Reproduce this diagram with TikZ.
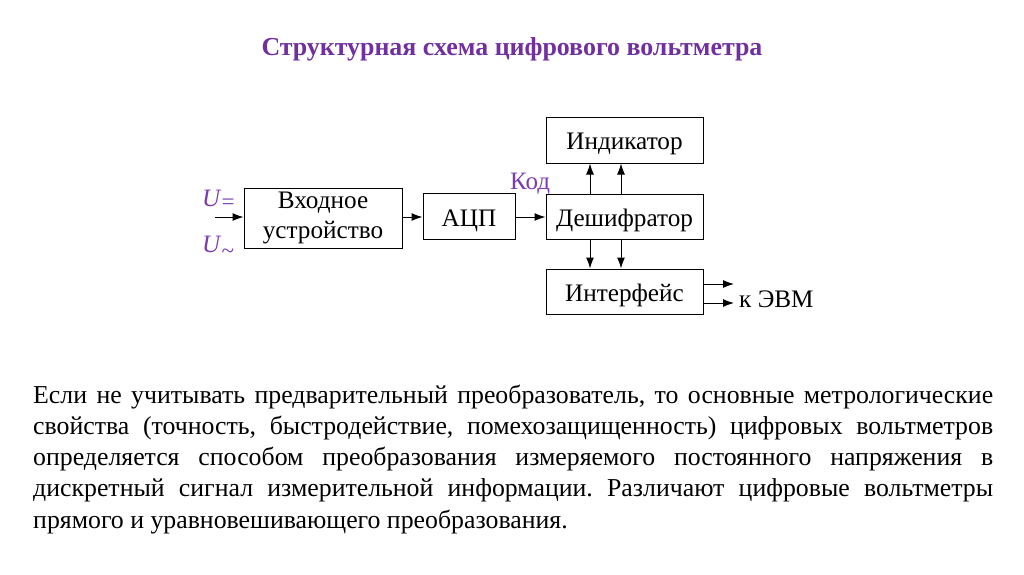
\documentclass[tikz,border=0pt]{standalone}
\usepackage{fontspec}
\setmainfont{Liberation Serif}
\usetikzlibrary{arrows.meta}
\frenchspacing
\definecolor{ttl}{HTML}{7030A0}
\definecolor{lbl}{HTML}{7A3CB0}
\tikzset{
  blk/.style={draw, line width=1pt, inner sep=0pt, align=center, font=\fontsize{25.2}{30.5}\selectfont},
  blk1/.style={blk, text height=21pt, text depth=2pt},
  arr/.style={line width=1pt, -{Latex[length=11pt,width=8pt]}},
  para/.style={anchor=base west, inner sep=0pt, font=\fontsize{25.8}{30}\selectfont},
  ulab/.style={text=lbl, anchor=base west, inner sep=0pt, font=\fontsize{25}{29}\selectfont},
}
\begin{document}
\begin{tikzpicture}[x=1pt,y=-1pt]
\useasboundingbox (0,0) rectangle (1024,574);
\node[text=ttl, anchor=base, inner sep=0pt, font=\fontsize{25.9}{30}\selectfont\bfseries] (title) at (512,55) {Структурная схема цифрового вольтметра};

\node[blk, minimum width=158, minimum height=60] (vx) at (323,218) {Входное\\устройство};
\node[blk1, minimum width=92, minimum height=46] (adc) at (469,216.5) {АЦП};
\node[blk1, minimum width=157, minimum height=46] (ind) at (624.5,140) {Индикатор};
\node[blk1, minimum width=157, minimum height=45] (dec) at (624.5,216.5) {Дешифратор};
\node[blk1, minimum width=157, minimum height=45] (intf) at (624.5,291.5) {Интерфейс};

\coordinate (in) at (215,217);
\draw[arr] (in) -- (vx.west |- in);
\draw[arr] (vx.east |- in) -- (adc.west |- in);
\draw[arr] (adc.east |- in) -- (dec.west |- in);

\coordinate (xa) at (590,0);
\coordinate (xb) at (621,0);
\draw[arr] (dec.north -| xa) -- (ind.south -| xa);
\draw[arr] (dec.north -| xb) -- (ind.south -| xb);
\draw[arr] (dec.south -| xa) -- (intf.north -| xa);
\draw[arr] (dec.south -| xb) -- (intf.north -| xb);

\coordinate (o1) at (734,284);
\coordinate (o2) at (734,303);
\draw[arr] (intf.east |- o1) -- (o1);
\draw[arr] (intf.east |- o2) -- (o2);
\node[anchor=base west, inner sep=0pt, font=\fontsize{25.2}{29}\selectfont] (evm) at (739,307) {к ЭВМ};

\node[ulab] (ueq) at (202,206) {\textit{U}\raisebox{-3pt}{\fontsize{23}{26}\selectfont =}};
\node[ulab] (uac) at (202,252) {\textit{U}\raisebox{-6pt}{\fontsize{23}{26}\selectfont \string~}};
\node[ulab] (kod) at (510,189) {Код};

\node[para] (p1) at (33,403) {\makebox[960pt][s]{Если не учитывать предварительный преобразователь, то основные метрологические}};
\node[para] (p2) at (33,434.25) {\makebox[960pt][s]{свойства (точность, быстродействие, помехозащищенность) цифровых вольтметров}};
\node[para] (p3) at (33,465.5) {\makebox[960pt][s]{определяется способом преобразования измеряемого постоянного напряжения в}};
\node[para] (p4) at (33,496.75) {\makebox[960pt][s]{дискретный сигнал измерительной информации. Различают цифровые вольтметры}};
\node[para] (p5) at (33,528) {прямого и уравновешивающего преобразования.};
\end{tikzpicture}
\end{document}
